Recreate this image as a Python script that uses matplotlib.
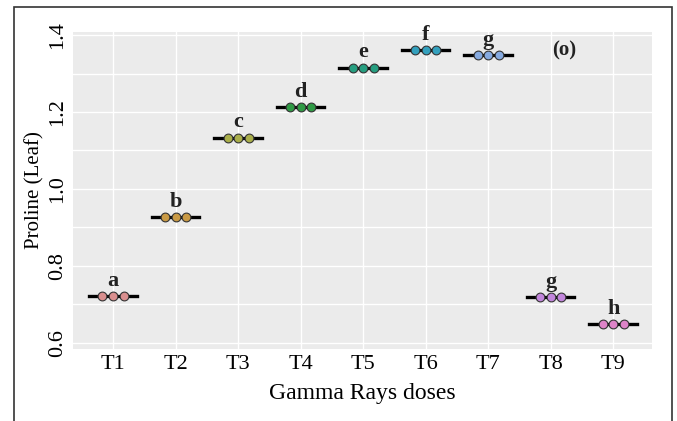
import matplotlib.pyplot as plt
import numpy as np
from matplotlib.patches import Rectangle
from matplotlib.ticker import MultipleLocator

TREATMENTS = ['T1', 'T2', 'T3', 'T4', 'T5', 'T6', 'T7', 'T8', 'T9']
REPLICATES = [
    [0.722, 0.722, 0.722],
    [0.926, 0.926, 0.926],
    [1.133, 1.133, 1.133],
    [1.212, 1.212, 1.212],
    [1.315, 1.315, 1.315],
    [1.360, 1.360, 1.360],
    [1.348, 1.348, 1.348],
    [0.718, 0.718, 0.718],
    [0.648, 0.648, 0.648],
]
LETTERS = ['a', 'b', 'c', 'd', 'e', 'f', 'g', 'g', 'h']
COLORS = ['#d98f8f', '#c99a45', '#a9ae4a', '#2f9a45', '#269e80',
          '#33a0bd', '#86aae0', '#c286dc', '#dd84c8']
PANEL_TAG = '(o)'

SERIF = ['Liberation Serif', 'DejaVu Serif']

fig = plt.figure(figsize=(6.77, 4.21), dpi=100)
ax = fig.add_axes([0.108, 0.171, 0.855, 0.753])
ax.set_facecolor('#EBEBEB')

offsets = np.array([-0.17, 0.0, 0.17])
for i, (vals, color, letter) in enumerate(zip(REPLICATES, COLORS, LETTERS)):
    mean = np.mean(vals)
    ax.plot([i - 0.38, i + 0.38], [mean, mean], color='black', lw=2.4, zorder=3)
    ax.scatter(i + offsets, vals, s=40, color=color, edgecolor='#333333',
               linewidth=0.8, zorder=4)
    ax.text(i, mean + 0.014, letter, ha='center', va='bottom', fontsize=16,
            family=SERIF, fontweight='bold', color='#222222')

ax.text(7.22, 1.36, PANEL_TAG, ha='center', va='center', fontsize=15,
        family=SERIF, fontweight='bold', color='#222222')

ax.set_xlim(-0.64, 8.62)
ax.set_ylim(0.584, 1.408)
ax.set_xticks(range(len(TREATMENTS)))
ax.set_xticklabels(TREATMENTS, fontsize=16, family=SERIF)
ax.yaxis.set_minor_locator(MultipleLocator(0.1))
ax.set_yticks([0.6, 0.8, 1.0, 1.2, 1.4])
ax.set_yticklabels(['0.6', '0.8', '1.0', '1.2', '1.4'], fontsize=16,
                   family=SERIF, rotation=90, va='center')
ax.tick_params(which='both', length=0, pad=4)
ax.grid(which='both', color='white', linewidth=1.0)
ax.set_axisbelow(True)
for sp in ax.spines.values():
    sp.set_visible(False)

ax.set_xlabel('Gamma Rays doses', fontsize=17, family=SERIF, labelpad=7)
ax.set_ylabel('Proline (Leaf)', fontsize=15, family=SERIF, labelpad=3)

fig.patches.append(Rectangle((14 / 677, -0.05), (672 - 14) / 677, 1.05 - 7 / 421,
                             transform=fig.transFigure, fill=False,
                             edgecolor='#333333', linewidth=1.2))

fig.savefig('out.png', dpi=100)
